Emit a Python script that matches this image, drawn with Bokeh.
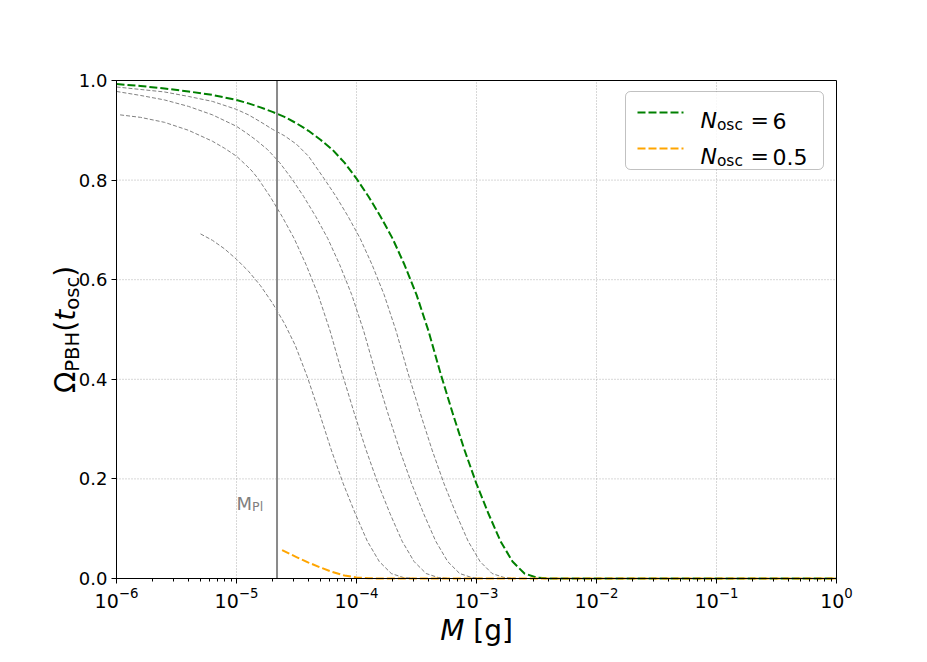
import math
from bokeh.plotting import figure
from bokeh.models import (Range1d, FixedTicker, Label, BoxAnnotation, Arrow,
                          PrintfTickFormatter)
from bokeh.embed import file_html
from bokeh.resources import INLINE

# ---------------- data (log10 of M in grams, Omega_PBH) ----------------
green_logm = [-6.0, -5.8, -5.6, -5.4, -5.2, -5.0, -4.9, -4.8, -4.7, -4.6, -4.5, -4.4, -4.3,
              -4.2, -4.1, -4.0, -3.9, -3.8, -3.7, -3.6, -3.5, -3.4, -3.3, -3.2, -3.1, -3.0,
              -2.9, -2.8, -2.7, -2.6, -2.5, -2.4, -2.0, -1.0, 0.0]
green_om = [0.993, 0.989, 0.984, 0.978, 0.971, 0.961, 0.954, 0.946, 0.937, 0.927, 0.914, 0.899,
            0.881, 0.861, 0.835, 0.803, 0.767, 0.727, 0.683, 0.630, 0.570, 0.497, 0.412, 0.333,
            0.258, 0.190, 0.130, 0.075, 0.034, 0.010, 0.002, 0.0, 0.0, 0.0, 0.0]

gray1_logm = [-6.0, -5.8, -5.6, -5.4, -5.2, -5.0, -4.9, -4.8, -4.7, -4.6, -4.5, -4.4, -4.27,
              -4.17, -4.07, -3.97, -3.87, -3.77, -3.67, -3.57, -3.47, -3.37, -3.27, -3.17,
              -3.07, -2.97, -2.87, -2.77, -2.67, -2.0, -1.0, 0.0]
gray1_om = [0.987, 0.982, 0.977, 0.968, 0.958, 0.942, 0.931, 0.917, 0.902, 0.889, 0.872, 0.848,
            0.803, 0.767, 0.727, 0.683, 0.630, 0.570, 0.497, 0.412, 0.333, 0.258, 0.190, 0.130,
            0.075, 0.034, 0.010, 0.002, 0.0, 0.0, 0.0, 0.0]

gray2_logm = [-6.0, -5.8, -5.6, -5.4, -5.2, -5.0, -4.92, -4.84, -4.74, -4.64, -4.54, -4.44,
              -4.34, -4.24, -4.14, -4.04, -3.94, -3.84, -3.74, -3.64, -3.54, -3.44, -3.34,
              -3.24, -3.14, -3.04, -2.94, -2.0, -1.0, 0.0]
gray2_om = [0.978, 0.970, 0.961, 0.948, 0.931, 0.908, 0.895, 0.881, 0.861, 0.835, 0.803, 0.767,
            0.727, 0.683, 0.630, 0.570, 0.497, 0.412, 0.333, 0.258, 0.190, 0.130, 0.075, 0.034,
            0.010, 0.002, 0.0, 0.0, 0.0, 0.0]

gray3_logm = [-5.97, -5.8, -5.6, -5.4, -5.2, -5.1, -5.0, -4.92, -4.87, -4.82, -4.72, -4.62,
              -4.52, -4.42, -4.32, -4.22, -4.12, -4.02, -3.92, -3.82, -3.72, -3.62, -3.52,
              -3.42, -3.32, -3.22, -2.0, -1.0, 0.0]
gray3_om = [0.931, 0.926, 0.916, 0.900, 0.878, 0.864, 0.848, 0.830, 0.818, 0.803, 0.767, 0.727,
            0.683, 0.630, 0.570, 0.497, 0.412, 0.333, 0.258, 0.190, 0.130, 0.075, 0.034, 0.010,
            0.002, 0.0, 0.0, 0.0, 0.0]

gray4_logm = [-5.3, -5.2, -5.1, -5.0, -4.9, -4.8, -4.7, -4.6, -4.51, -4.41, -4.31, -4.21,
              -4.11, -4.01, -3.91, -3.81, -3.71, -3.61, -3.51, -2.0, -1.0, 0.0]
gray4_om = [0.692, 0.679, 0.662, 0.641, 0.617, 0.588, 0.553, 0.512, 0.468, 0.405, 0.333, 0.258,
            0.190, 0.130, 0.075, 0.034, 0.010, 0.002, 0.0, 0.0, 0.0, 0.0]

orange_logm = [-4.62, -4.5, -4.4, -4.3, -4.2, -4.1, -4.0, -3.9, -3.8, -3.0, -2.0, -1.0, 0.0]
orange_om = [0.057, 0.043, 0.032, 0.022, 0.013, 0.006, 0.002, 0.0005, 0.0, 0.0, 0.0, 0.0, 0.0]

M_PLANCK_G = 2.176e-5
X_TICK_EXP = [-6, -5, -4, -3, -2, -1, 0]
Y_TICKS = [0.0, 0.2, 0.4, 0.6, 0.8, 1.0]
LEGEND_VALUES = ["6", "0.5"]
LEGEND_COLORS = ["green", "orange"]

FONT = "DejaVu Sans"

# ---------------- layout (pixels) ----------------
W, H = 920, 655                 # canvas
BOX_L, BOX_R, BOX_T, BOX_B = 116, 836, 80, 578   # axes box inside the canvas
XMIN, XMAX = 10.0 ** X_TICK_EXP[0], 10.0 ** X_TICK_EXP[-1]
YMIN, YMAX = Y_TICKS[0], Y_TICKS[-1]
px_dec = (BOX_R - BOX_L) / (X_TICK_EXP[-1] - X_TICK_EXP[0])
px_unit = (BOX_B - BOX_T) / (YMAX - YMIN)
x_range = Range1d(10 ** (X_TICK_EXP[0] - BOX_L / px_dec), 10 ** (X_TICK_EXP[-1] + (W - BOX_R) / px_dec))
y_range = Range1d(YMIN - (H - BOX_B) / px_unit, YMAX + BOX_T / px_unit)

# approximate DejaVu Sans advance widths (em) for run layout of composite labels
CW = {'Ω': 0.765, 'P': 0.603, 'B': 0.686, 'H': 0.752, '(': 0.390, ')': 0.390, 't': 0.392,
      'o': 0.612, 's': 0.521, 'c': 0.550, 'M': 0.863, ' ': 0.318, '[': 0.390, ']': 0.390,
      'g': 0.635, 'N': 0.748, '=': 0.838, 'l': 0.278}


def adv(s, size):
    return sum(CW[c] for c in s) * size


p = figure(x_axis_type="log", x_range=x_range, y_range=y_range, width=W, height=H,
           min_border=0, min_border_left=0, min_border_right=0, min_border_top=0,
           min_border_bottom=0, output_backend="svg", toolbar_location=None,
           background_fill_color="white", border_fill_color="white")
p.outline_line_color = None

xa, ya = p.xaxis[0], p.yaxis[0]
xa.fixed_location = YMIN
ya.fixed_location = XMIN
xa.bounds = (XMIN, XMAX)
ya.bounds = (YMIN, YMAX)
xa.ticker = FixedTicker(ticks=[10.0 ** e for e in X_TICK_EXP],
                        minor_ticks=[m * 10.0 ** e for e in range(X_TICK_EXP[0], X_TICK_EXP[-1])
                                     for m in range(2, 10)])
ya.ticker = FixedTicker(ticks=Y_TICKS)
ya.formatter = PrintfTickFormatter(format="%.1f")

for ax in (xa, ya):
    ax.axis_line_color = "black"
    ax.axis_line_width = 1
    ax.major_tick_line_color = "black"
    ax.minor_tick_line_color = "black"
    ax.major_tick_out = 5
    ax.major_tick_in = 0
    ax.minor_tick_out = 3
    ax.minor_tick_in = 0
    ax.major_label_text_font = FONT
    ax.major_label_text_color = "black"
xa.major_label_text_font_size = "19px"
xa.major_label_standoff = 3
ya.major_label_text_font_size = "18px"
ya.major_label_standoff = 4
ya.minor_tick_line_color = None

# grid (dotted, only inside the axes box)
p.xgrid.visible = False
p.ygrid.visible = False
gx = [10.0 ** e for e in X_TICK_EXP]
grid_v = p.segment(x0=gx, y0=[YMIN] * len(gx), x1=gx, y1=[YMAX] * len(gx),
                   line_color="#b0b0b0", line_width=1, line_dash="1 2")
grid_h = p.segment(x0=[XMIN] * len(Y_TICKS), y0=Y_TICKS, x1=[XMAX] * len(Y_TICKS), y1=Y_TICKS,
                   line_color="#b0b0b0", line_width=1, line_dash="1 2")
grid_v.level = "underlay"
grid_h.level = "underlay"

# ---------------- curves ----------------
for lm, om in ((gray1_logm, gray1_om), (gray2_logm, gray2_om),
               (gray3_logm, gray3_om), (gray4_logm, gray4_om)):
    p.line(x=[10.0 ** v for v in lm], y=om, line_color="#808080", line_width=1, line_dash="4 2")

p.line(x=[10.0 ** v for v in green_logm], y=green_om, line_color="green", line_width=2,
       line_dash="8 3")
p.line(x=[10.0 ** v for v in orange_logm], y=orange_om, line_color="orange", line_width=2,
       line_dash="8 3")

# Planck mass marker
p.segment(x0=[M_PLANCK_G], y0=[YMIN], x1=[M_PLANCK_G], y1=[YMAX], line_color="#8a8a8a",
          line_width=2)

# axes box (top / right spines)
p.add_layout(BoxAnnotation(left=XMIN, right=XMAX, bottom=YMIN, top=YMAX, fill_color=None,
                           line_color="black", line_width=1, line_alpha=1.0))

# M_Pl annotation
p.add_layout(Label(x=1e-5, y=0.15, text="M", text_font=FONT, text_font_size="18px",
                   text_color="#808080", text_baseline="alphabetic", text_align="left"))
p.add_layout(Label(x=1e-5, y=0.15, x_offset=adv("M", 18), y_offset=-3, text="Pl", text_font=FONT,
                   text_font_size="12.6px", text_color="#808080", text_baseline="alphabetic",
                   text_align="left"))


def sy(canvas_y):
    """canvas pixel row -> screen units (measured up from the frame bottom)"""
    return H - canvas_y


def run_labels(runs, x0, y0, vertical=False):
    """runs: (text, size, style, sub_shift); x0, y0 in screen units"""
    pos = 0.0
    for text, size, style, shift in runs:
        lead = len(text) - len(text.lstrip(" "))
        pos += adv(" " * lead, size)
        body = text.lstrip(" ")
        if vertical:
            lab = Label(x=x0 + shift, y=y0 + pos, angle=math.pi / 2)
        else:
            lab = Label(x=x0 + pos, y=y0 - shift)
        lab.x_units = "screen"
        lab.y_units = "screen"
        lab.text = body
        lab.text_font = FONT
        lab.text_font_size = f"{size}px"
        lab.text_font_style = style
        lab.text_color = "black"
        lab.text_align = "left"
        lab.text_baseline = "alphabetic"
        p.add_layout(lab)
        pos += adv(body, size)


# y axis label: Omega_PBH(t_osc)
BIG, SUB = 28, 19.6
ylab = [("Ω", BIG, "normal", 0), ("PBH", SUB, "normal", 7), ("(", BIG, "normal", 0),
        ("t", BIG, "italic", 0), ("osc", SUB, "normal", 7), (")", BIG, "normal", 0)]
ylen = sum(adv(t, s) for t, s, _, _ in ylab)
run_labels(ylab, 65, sy((BOX_T + BOX_B) / 2) - ylen / 2, vertical=True)

# x axis label: M [g]
xlab = [("M", BIG, "italic", 0), (" [g]", BIG, "normal", 0)]
xlen = sum(adv(t, s) for t, s, _, _ in xlab)
run_labels(xlab, (BOX_L + BOX_R) / 2 - xlen / 2, sy(630))

# ---------------- legend ----------------
p.add_layout(BoxAnnotation(left=625, right=823, top=sy(91), bottom=sy(169),
                           left_units="screen", right_units="screen",
                           top_units="screen", bottom_units="screen",
                           fill_color="white", fill_alpha=0.85,
                           line_color="#333333", line_width=1, border_radius=5))
for i, (val, col) in enumerate(zip(LEGEND_VALUES, LEGEND_COLORS)):
    base = 120 + 36 * i
    p.add_layout(Arrow(x_start=637, y_start=sy(base - 8), x_end=683, y_end=sy(base - 8),
                       start_units="screen", end_units="screen", end=None,
                       line_color=col, line_width=2, line_dash="8 3"))
    run_labels([("N", 22, "italic", 0), ("osc", 15.4, "normal", 4)], 700, sy(base))
    for txt, xx in (("=", 750), (val, 772)):
        p.add_layout(Label(x=xx, y=sy(base), x_units="screen", y_units="screen", text=txt,
                           text_font=FONT, text_font_size="22px", text_color="black",
                           text_align="left", text_baseline="alphabetic"))

open("out.html", "w").write(file_html(p, INLINE))
